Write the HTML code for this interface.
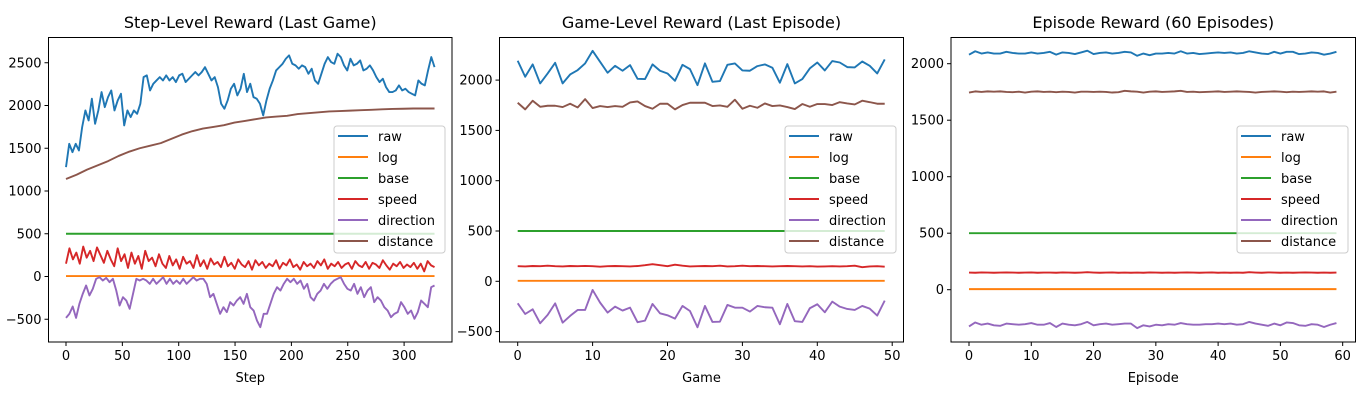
<!DOCTYPE html>
<html><head><meta charset="utf-8"><style>
body{margin:0;background:#fff;}
svg text{font-family:"DejaVu Sans","Liberation Sans",sans-serif;fill:#000;}
</style></head><body>
<svg id="fig" width="1366" height="400" xmlns="http://www.w3.org/2000/svg"></svg>
<script>
// ---- Panel 1 data (Step-Level) ----
const p1Raw=[1279,1552,1455,1552,1474,1747,1942,1825,2079,1786,1942,2157,1981,2098,2176,1942,2059,2137,1767,1942,1864,1942,1903,2020,2332,2352,2176,2254,2293,2332,2293,2352,2293,2332,2274,2352,2371,2274,2313,2352,2391,2352,2391,2449,2371,2293,2332,2215,2020,1962,2059,2196,2254,2118,2196,2371,2157,2254,2098,2079,2020,1884,2059,2196,2293,2410,2449,2488,2547,2586,2488,2469,2430,2469,2449,2371,2430,2293,2254,2371,2488,2566,2508,2488,2605,2566,2469,2410,2547,2469,2488,2527,2410,2430,2469,2410,2332,2274,2313,2215,2157,2157,2176,2235,2176,2196,2157,2137,2118,2293,2254,2235,2410,2566,2449];
const p1Dist=[1140,1190,1250,1300,1350,1410,1460,1500,1530,1560,1610,1660,1700,1730,1750,1770,1800,1820,1840,1860,1870,1880,1900,1910,1920,1930,1935,1940,1945,1950,1955,1960,1962,1965,1965,1965];
const p1Speed=[150,330,200,280,150,350,220,300,180,340,250,160,300,200,120,330,180,260,100,280,150,240,90,300,180,220,120,260,150,100,240,130,200,90,230,150,180,100,250,120,190,90,210,140,170,110,230,120,160,90,200,140,110,180,80,190,130,170,100,150,120,190,90,160,130,200,110,140,80,170,120,150,100,180,130,200,90,150,120,170,100,140,160,90,180,130,110,170,90,160,140,100,190,130,80,150,120,170,100,140,110,160,90,150,60,180,130,110];
const p1Dir=[-484,-437,-351,-484,-320,-203,-105,-222,-144,-27,-8,-47,-16,-66,-27,-164,-339,-242,-281,-378,-203,-27,-47,-27,-47,-86,-27,-86,-47,-8,-86,-27,-86,-47,-86,-27,-86,-47,-8,-47,-27,-27,-86,-242,-203,-320,-437,-359,-417,-300,-339,-281,-242,-320,-203,-359,-398,-515,-593,-437,-437,-320,-203,-125,-164,-86,-27,-66,-27,-86,-47,-144,-86,-242,-281,-203,-164,-86,-144,-86,-47,-27,-8,-86,-144,-164,-86,-203,-125,-242,-164,-125,-300,-242,-281,-359,-398,-476,-437,-417,-300,-359,-437,-398,-495,-417,-281,-320,-359,-125,-105];
const p1Log=[5,5];
const p1Base=[500,500];
const p1XTicks=[0,50,100,150,200,250,300];
const p1YTicks=[-500,0,500,1000,1500,2000,2500];
// ---- Panel 2 data (Game-Level) ----
const p2Raw=[2192,2033,2156,1967,2066,2172,1967,2056,2099,2166,2291,2182,2073,2142,2093,2149,2013,2010,2156,2093,2066,1993,2152,2109,1950,2166,1983,1990,2152,2166,2096,2093,2139,2156,2123,1974,2159,1967,2010,2116,2175,2096,2189,2175,2129,2126,2185,2142,2066,2205];
const p2Dist=[1775,1709,1795,1735,1745,1745,1732,1765,1728,1811,1722,1742,1732,1742,1735,1778,1788,1742,1715,1765,1765,1709,1752,1775,1775,1775,1742,1748,1735,1805,1715,1745,1725,1768,1742,1748,1732,1712,1762,1735,1762,1762,1752,1781,1768,1758,1795,1781,1765,1765];
const p2Speed=[150,148,152,150,155,150,148,152,150,153,150,145,150,152,150,148,152,160,170,160,150,165,155,148,150,152,150,155,148,150,155,150,152,150,148,150,152,150,148,150,146,148,150,148,150,155,140,148,150,145];
const p2Dir=[-219,-325,-278,-417,-334,-219,-411,-344,-285,-285,-86,-212,-311,-252,-291,-262,-407,-391,-225,-318,-338,-371,-245,-295,-457,-245,-404,-401,-235,-262,-262,-301,-245,-258,-262,-427,-225,-397,-404,-268,-228,-308,-202,-252,-275,-285,-245,-272,-341,-192];
const p2Log=[5,5];
const p2Base=[500,500];
const p2XTicks=[0,10,20,30,40,50];
const p2YTicks=[-500,0,500,1000,1500,2000];
// ---- Panel 3 data (Episode) ----
const p3Raw=[2080,2110,2090,2100,2090,2090,2105,2095,2090,2090,2100,2090,2095,2105,2080,2100,2095,2085,2100,2115,2085,2095,2100,2090,2095,2105,2100,2070,2090,2075,2090,2090,2095,2090,2110,2090,2095,2085,2090,2095,2100,2095,2100,2090,2095,2110,2100,2090,2085,2105,2090,2105,2105,2085,2090,2100,2095,2080,2090,2105];
const p3Dist=[1745,1755,1750,1755,1752,1755,1750,1748,1752,1745,1752,1755,1750,1752,1748,1752,1750,1745,1752,1752,1750,1752,1750,1745,1748,1760,1755,1752,1745,1752,1755,1750,1752,1755,1760,1750,1752,1748,1750,1752,1755,1750,1752,1755,1752,1750,1745,1750,1752,1755,1752,1748,1752,1750,1752,1755,1752,1755,1745,1752];
const p3Speed=[152,150,153,152,150,152,153,152,150,152,153,150,152,152,150,153,152,150,152,155,152,150,152,153,150,152,150,152,150,153,152,150,152,150,152,153,152,150,152,153,150,152,150,152,150,155,152,150,153,152,150,152,150,152,153,152,150,152,150,152];
const p3Dir=[-325,-290,-310,-300,-315,-320,-300,-305,-310,-305,-295,-310,-310,-295,-330,-300,-310,-315,-305,-285,-315,-305,-300,-310,-305,-300,-300,-340,-315,-325,-310,-315,-305,-310,-295,-305,-310,-310,-305,-305,-300,-305,-300,-310,-305,-285,-300,-310,-320,-300,-315,-290,-295,-315,-320,-305,-310,-330,-310,-295];
const p3Log=[5,5];
const p3Base=[500,500];
const p3XTicks=[0,10,20,30,40,50,60];
const p3YTicks=[0,500,1000,1500,2000];

const NS="http://www.w3.org/2000/svg";
const fig=document.getElementById('fig');
const COLORS={raw:'#1f77b4',log:'#ff7f0e',base:'#2ca02c',speed:'#d62728',direction:'#9467bd',distance:'#8c564b'};
const ORDER=['raw','log','base','speed','direction','distance'];
function mk(tag,attrs,parent){const e=document.createElementNS(NS,tag);for(const k in attrs)e.setAttribute(k,attrs[k]);(parent||fig).appendChild(e);return e;}

function panel(cfg){
  const g=mk('g',{});
  
  
  const L=cfg.left,R=cfg.right,T=37.5,B=342;
  const xs=v=>cfg.x0px+(v-cfg.x0v)*cfg.xk;
  const ys=v=>cfg.y0px-v*cfg.yk;
  ORDER.forEach(k=>{
    const arr=cfg.series[k];
    const n=arr.length;
    let d='';
    arr.forEach((v,i)=>{const xv=cfg.xmax*i/(n-1);d+=(i?'L':'M')+xs(xv).toFixed(2)+','+ys(v).toFixed(2);});
    const p=mk('path',{d:d,fill:'none',stroke:COLORS[k],'stroke-width':1.9,'stroke-linejoin':'round'},g);
    
    
  });
  const fr=mk('rect',{x:L,y:T,width:R-L,height:B-T,fill:'none',stroke:'#000','stroke-width':1},g);
  
  
  cfg.xticks.forEach(t=>{
    const x=xs(t);
    mk('line',{x1:x,x2:x,y1:B,y2:B+4,stroke:'#000','stroke-width':1},g);
    const tx=mk('text',{x:x,y:B+18,'font-size':13,'text-anchor':'middle'},g);
    tx.textContent=t;
    
    
  });
  cfg.yticks.forEach(t=>{
    const y=ys(t);
    mk('line',{x1:L-4,x2:L,y1:y,y2:y,stroke:'#000','stroke-width':1},g);
    const tx=mk('text',{x:L-7,y:y+4.5,'font-size':13,'text-anchor':'end'},g);
    tx.textContent=(t<0?'\u2212'+(-t):t);
    
    
  });
  const title=mk('text',{x:(L+R)/2,y:28,'font-size':16,'text-anchor':'middle'},g);
  title.textContent=cfg.title;
  
  
  const xl=mk('text',{x:(L+R)/2,y:382,'font-size':13,'text-anchor':'middle'},g);
  xl.textContent=cfg.xlabel;
  
  
  const lg=mk('g',{},g);
  
  
  mk('rect',{x:cfg.legX,y:126,width:111,height:127,rx:3,fill:'#fff','fill-opacity':0.8,stroke:'#ccc','stroke-width':1},lg);
  ORDER.forEach((k,i)=>{
    const y=136+i*21;
    const e=mk('g',{},lg);
    
    
    mk('line',{x1:cfg.legX+4,x2:cfg.legX+34,y1:y,y2:y,stroke:COLORS[k],'stroke-width':1.9},e);
    const t=mk('text',{x:cfg.legX+44,y:y+5,'font-size':13},e);
    t.textContent=k;
  });
}

panel({name:'step-level-panel',title:'Step-Level Reward (Last Game)',xlabel:'Step',left:48.5,right:452,
  x0px:66,x0v:0,xk:1.127,xmax:327,y0px:276.5,yk:0.0855,xticks:p1XTicks,yticks:p1YTicks,legX:334,
  series:{raw:p1Raw,log:p1Log,base:p1Base,speed:p1Speed,direction:p1Dir,distance:p1Dist}});
panel({name:'game-level-panel',title:'Game-Level Reward (Last Episode)',xlabel:'Game',left:499.5,right:903.5,
  x0px:517.7,x0v:0,xk:7.49,xmax:49,y0px:281.3,yk:0.1006,xticks:p2XTicks,yticks:p2YTicks,legX:785,
  series:{raw:p2Raw,log:p2Log,base:p2Base,speed:p2Speed,direction:p2Dir,distance:p2Dist}});
panel({name:'episode-panel',title:'Episode Reward (60 Episodes)',xlabel:'Episode',left:951,right:1355.5,
  x0px:969,x0v:0,xk:6.228,xmax:59,y0px:289.7,yk:0.113,xticks:p3XTicks,yticks:p3YTicks,legX:1237,
  series:{raw:p3Raw,log:p3Log,base:p3Base,speed:p3Speed,direction:p3Dir,distance:p3Dist}});
</script>
</body></html>
